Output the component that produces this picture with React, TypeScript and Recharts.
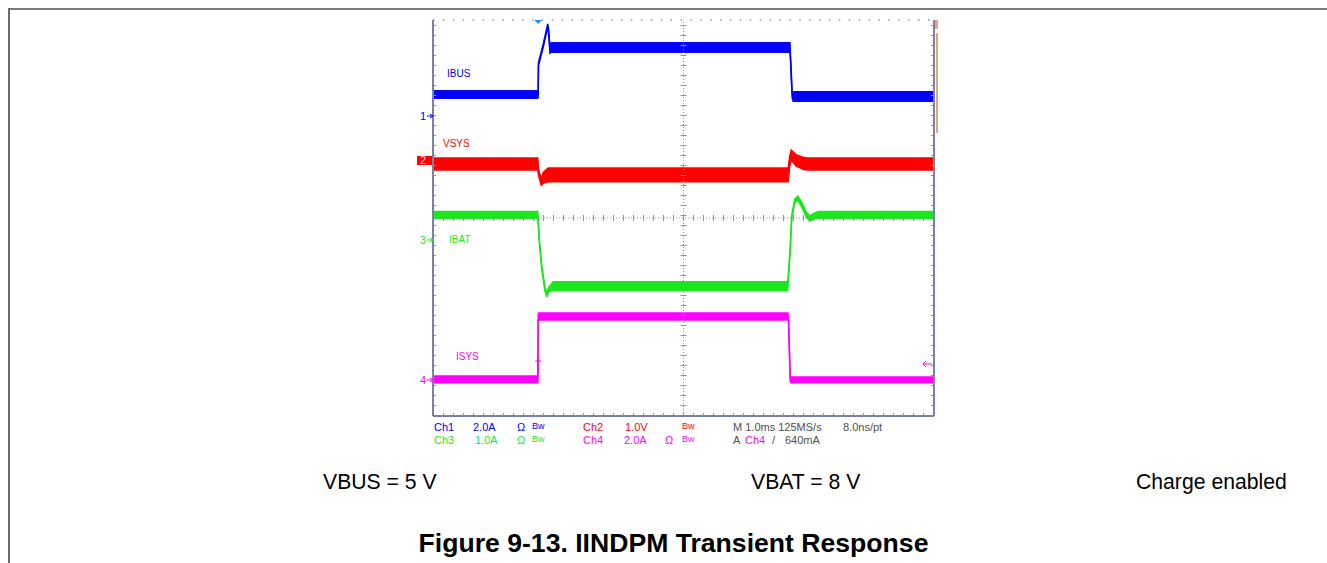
import React from 'react';
import { ComposedChart, Area, XAxis, YAxis, CartesianGrid, ReferenceLine, ReferenceDot } from 'recharts';

// Horizontal divisions (1 ms/div) and vertical divisions of the scope screen
const X_TICKS = [0, 1, 2, 3, 4, 5, 6, 7, 8, 9, 10];
const Y_TICKS = [0, 1, 2, 3, 4, 5, 6, 7, 8];

// Trigger position (div) and trigger level for Ch4 (div)
const TRIGGER_T = 2.1;
const TRIGGER_LEVEL = 1.05;

// IBUS (Ch1) trace envelope, in screen divisions
const ibusT = [0, 2.09, 2.1, 2.105, 2.2, 2.25, 2.29, 2.31, 2.335, 2.36, 7.125, 7.135, 7.17, 7.19, 10];
const ibusLo = [6.42, 6.42, 6.44, 7.08, 7.45, 7.68, 7.84, 7.7, 7.33, 7.35, 7.35, 7.2, 6.42, 6.36, 6.36];
const ibusHi = [6.57, 6.57, 6.55, 7.14, 7.51, 7.74, 7.92, 7.8, 7.4, 7.54, 7.54, 7.3, 6.5, 6.55, 6.55];

// VSYS (Ch2)
const vsysT = [0, 2.09, 2.11, 2.16, 2.2, 2.3, 7.09, 7.12, 7.15, 7.25, 7.4, 7.48, 10];
const vsysLo = [4.97, 4.97, 4.85, 4.66, 4.7, 4.73, 4.73, 5.05, 5.17, 5.05, 4.98, 4.97, 4.97];
const vsysHi = [5.21, 5.21, 4.97, 4.8, 4.92, 5.01, 5.01, 5.25, 5.37, 5.28, 5.22, 5.21, 5.21];

// IBAT (Ch3)
const ibatT = [0, 2.09, 2.105, 2.12, 2.17, 2.235, 2.27, 2.32, 2.4, 7.08, 7.1, 7.13, 7.16, 7.22, 7.28, 7.36, 7.45, 7.52, 7.62, 7.7, 10];
const ibatLo = [3.99, 3.99, 3.8, 3.53, 2.98, 2.52, 2.42, 2.52, 2.53, 2.53, 2.85, 3.32, 3.98, 4.3, 4.36, 4.22, 4.02, 3.94, 3.99, 3.99, 3.99];
const ibatHi = [4.13, 4.13, 3.95, 3.6, 3.05, 2.6, 2.5, 2.62, 2.71, 2.71, 2.95, 3.4, 4.06, 4.38, 4.44, 4.32, 4.12, 4.04, 4.1, 4.13, 4.13];

// ISYS (Ch4)
const isysT = [0, 2.09, 2.095, 2.1, 2.11, 7.085, 7.095, 7.13, 7.145, 10];
const isysLo = [0.67, 0.67, 0.7, 1.96, 1.94, 1.94, 1.96, 0.7, 0.67, 0.67];
const isysHi = [0.81, 0.81, 0.78, 2.04, 2.08, 2.08, 2.02, 0.76, 0.79, 0.79];

const BLUE = '#0000ff';
const RED = '#ff0000';
const GREEN = '#1ee61e';
const MAGENTA = '#ff00ff';
const GRID = '#8a92ba';
const FRAME = '#7a80a6';

const build = (t: number[], lo: number[], hi: number[]) => t.map((x, i) => ({ x, r: [lo[i], hi[i]] }));

const ibusData = build(ibusT, ibusLo, ibusHi);
const vsysData = build(vsysT, vsysLo, vsysHi);
const ibatData = build(ibatT, ibatLo, ibatHi);
const isysData = build(isysT, isysLo, isysHi);

const SCOPE_FONT = "'Liberation Sans Narrow', 'Liberation Sans', Arial, sans-serif";
const DOC_FONT = "'Liberation Sans', Arial, sans-serif";

const readout: [number, number, string, string, boolean][] = [
  [434, 427, 'Ch1', BLUE, false],
  [473, 427, '2.0A', BLUE, false],
  [517, 427, 'Ω', BLUE, false],
  [532, 426, 'Bw', BLUE, true],
  [583, 427, 'Ch2', RED, false],
  [625, 427, '1.0V', RED, false],
  [682, 426, 'Bw', RED, true],
  [733, 427, 'M 1.0ms 125MS/s', '#505050', false],
  [843, 427, '8.0ns/pt', '#505050', false],
  [434, 440, 'Ch3', GREEN, false],
  [475, 440, '1.0A', GREEN, false],
  [517, 440, 'Ω', GREEN, false],
  [532, 439, 'Bw', GREEN, true],
  [583, 440, 'Ch4', MAGENTA, false],
  [624, 440, '2.0A', MAGENTA, false],
  [665, 440, 'Ω', MAGENTA, false],
  [682, 439, 'Bw', MAGENTA, true],
  [733, 440, 'A', '#505050', false],
  [745, 440, 'Ch4', MAGENTA, false],
  [772, 440, '/', '#505050', false],
  [785, 440, '640mA', '#505050', false],
];

const traceLabels: [number, number, string, string][] = [
  [447, 74, 'IBUS', BLUE],
  [443, 144, 'VSYS', RED],
  [449, 240, 'IBAT', GREEN],
  [456, 357, 'ISYS', MAGENTA],
];

const markers: [number, string, string][] = [
  [116, '1', BLUE],
  [240, '3', GREEN],
  [380, '4', MAGENTA],
];

function Marker({ y, text, color }: { y: number; text: string; color: string }) {
  return (
    <div style={{ position: 'absolute', left: 418, top: y - 7, width: 16, height: 14 }}>
      <span style={{ position: 'absolute', left: 2, top: 0, fontSize: 11, lineHeight: '14px', color, fontFamily: SCOPE_FONT }}>{text}</span>
      <svg width={16} height={14} style={{ position: 'absolute', left: 0, top: 0 }}>
        <line x1={9} y1={7} x2={15} y2={7} stroke={color} strokeWidth={1} />
        <path d="M12,5 L15,7 L12,9" fill="none" stroke={color} strokeWidth={1} />
      </svg>
    </div>
  );
}

export default function App() {
  const areaCommon = {
    type: 'linear' as const,
    dataKey: 'r',
    isAnimationActive: false,
    dot: false,
    activeDot: false,
    fillOpacity: 1,
    strokeWidth: 1.5,
  };
  const docText = { position: 'absolute' as const, top: 469, fontSize: 21.2, lineHeight: '26px', fontFamily: DOC_FONT, color: '#000', whiteSpace: 'nowrap' as const };
  return (
    <div style={{ position: 'absolute', left: 0, top: 0, width: 1327, height: 563, background: '#fff', overflow: 'hidden' }}>
      {/* document frame */}
      <div style={{ position: 'absolute', left: 8, top: 8, width: 1319, height: 2, background: '#7a7a7a' }} />
      <div style={{ position: 'absolute', left: 8, top: 8, width: 2, height: 555, background: '#6a6a6a' }} />

      <div style={{ position: 'absolute', left: 413, top: 0 }}>
        <ComposedChart width={540} height={430} margin={{ top: 20, left: 20, right: 19, bottom: 14 }}>
          <XAxis dataKey="x" type="number" domain={[0, 10]} ticks={X_TICKS} tick={false} tickLine={false} axisLine={false} height={0} allowDataOverflow />
          <YAxis type="number" domain={[0, 8]} ticks={Y_TICKS} tick={false} tickLine={false} axisLine={false} width={0} allowDataOverflow />
          <CartesianGrid stroke={GRID} strokeDasharray="1.4 8.5" strokeWidth={1.4} />
          {/* center graticule with minor ticks */}
          <ReferenceLine x={5} stroke={GRID} strokeDasharray="1 2" strokeWidth={1} />
          <ReferenceLine y={4} stroke={GRID} strokeDasharray="1 2" strokeWidth={1} />
          <ReferenceLine x={5} stroke={GRID} strokeDasharray="1 9" strokeWidth={6} />
          <ReferenceLine y={4} stroke={GRID} strokeDasharray="1 9" strokeWidth={6} />
          {/* edge minor ticks (inner side only) */}
          <ReferenceLine x={0} stroke={GRID} strokeDasharray="1 9" strokeWidth={6} ifOverflow="hidden" />
          <ReferenceLine x={10} stroke={GRID} strokeDasharray="1 9" strokeWidth={6} ifOverflow="hidden" />
          <ReferenceLine y={0} stroke={GRID} strokeDasharray="1 9" strokeWidth={6} ifOverflow="hidden" />
          {/* frame */}
          <ReferenceLine x={0} stroke={FRAME} strokeWidth={2} />
          <ReferenceLine x={10} stroke={FRAME} strokeWidth={2} />
          <ReferenceLine y={0} stroke={FRAME} strokeWidth={2} />

          <Area {...areaCommon} data={ibatData} stroke={GREEN} fill={GREEN} />
          <Area {...areaCommon} data={vsysData} stroke={RED} fill={RED} />
          <Area {...areaCommon} data={ibusData} stroke={BLUE} fill={BLUE} />
          <Area {...areaCommon} data={isysData} stroke={MAGENTA} fill={MAGENTA} />

          <ReferenceDot
            x={TRIGGER_T}
            y={8}
            ifOverflow="visible"
            shape={(p: any) => <path d={`M${p.cx - 4},${p.cy} L${p.cx + 4},${p.cy} L${p.cx},${p.cy + 4} Z`} fill="#2a8cff" />}
          />
          <ReferenceDot
            x={TRIGGER_T}
            y={TRIGGER_LEVEL}
            ifOverflow="visible"
            shape={(p: any) => (
              <g stroke={MAGENTA} strokeWidth={1}>
                <line x1={p.cx - 3} y1={p.cy - 3} x2={p.cx + 3} y2={p.cy - 3} />
                <line x1={p.cx} y1={p.cy - 5} x2={p.cx} y2={p.cy + 12} />
              </g>
            )}
          />
          <ReferenceDot
            x={10}
            y={TRIGGER_LEVEL}
            ifOverflow="visible"
            shape={(p: any) => (
              <g stroke={MAGENTA} strokeWidth={1} fill="none">
                <line x1={p.cx - 11} y1={p.cy} x2={p.cx - 2} y2={p.cy} />
                <path d={`M${p.cx - 8},${p.cy - 3} L${p.cx - 11},${p.cy} L${p.cx - 8},${p.cy + 3}`} />
              </g>
            )}
          />
        </ComposedChart>
      </div>

      {/* right-side orange indicator */}
      <div style={{ position: 'absolute', left: 935, top: 20, width: 3, height: 9, background: '#e0a878' }} />
      <div style={{ position: 'absolute', left: 936, top: 33, width: 1.5, height: 100, background: '#e0a878' }} />

      {/* channel 2 tag */}
      <div style={{ position: 'absolute', left: 417, top: 156, width: 15, height: 9, background: RED }}>
        <span style={{ position: 'absolute', left: 3, top: -2, fontSize: 11, lineHeight: '12px', color: '#ffd0d0', fontFamily: SCOPE_FONT }}>2</span>
      </div>

      {markers.map(([y, t, c]) => (
        <Marker key={t} y={y} text={t} color={c} />
      ))}

      {traceLabels.map(([x, y, t, c]) => (
        <div key={t} style={{ position: 'absolute', left: x, top: y - 7, fontSize: 10, lineHeight: '14px', color: c, fontFamily: SCOPE_FONT, whiteSpace: 'nowrap' }}>{t}</div>
      ))}

      {readout.map(([x, y, t, c, small], i) => (
        <div key={i} style={{ position: 'absolute', left: x, top: y - 7, fontSize: small ? 9 : 11, lineHeight: '14px', color: c, fontFamily: SCOPE_FONT, whiteSpace: 'nowrap' }}>{t}</div>
      ))}

      <div style={{ ...docText, left: 323 }}>VBUS = 5 V</div>
      <div style={{ ...docText, left: 751 }}>VBAT = 8 V</div>
      <div style={{ ...docText, left: 1136 }}>Charge enabled</div>
      <div style={{ position: 'absolute', left: 0, width: 1347, top: 527, textAlign: 'center', fontSize: 26.6, lineHeight: '32px', fontWeight: 'bold', fontFamily: DOC_FONT, color: '#000', whiteSpace: 'nowrap' }}>Figure 9-13. IINDPM Transient Response</div>
    </div>
  );
}
